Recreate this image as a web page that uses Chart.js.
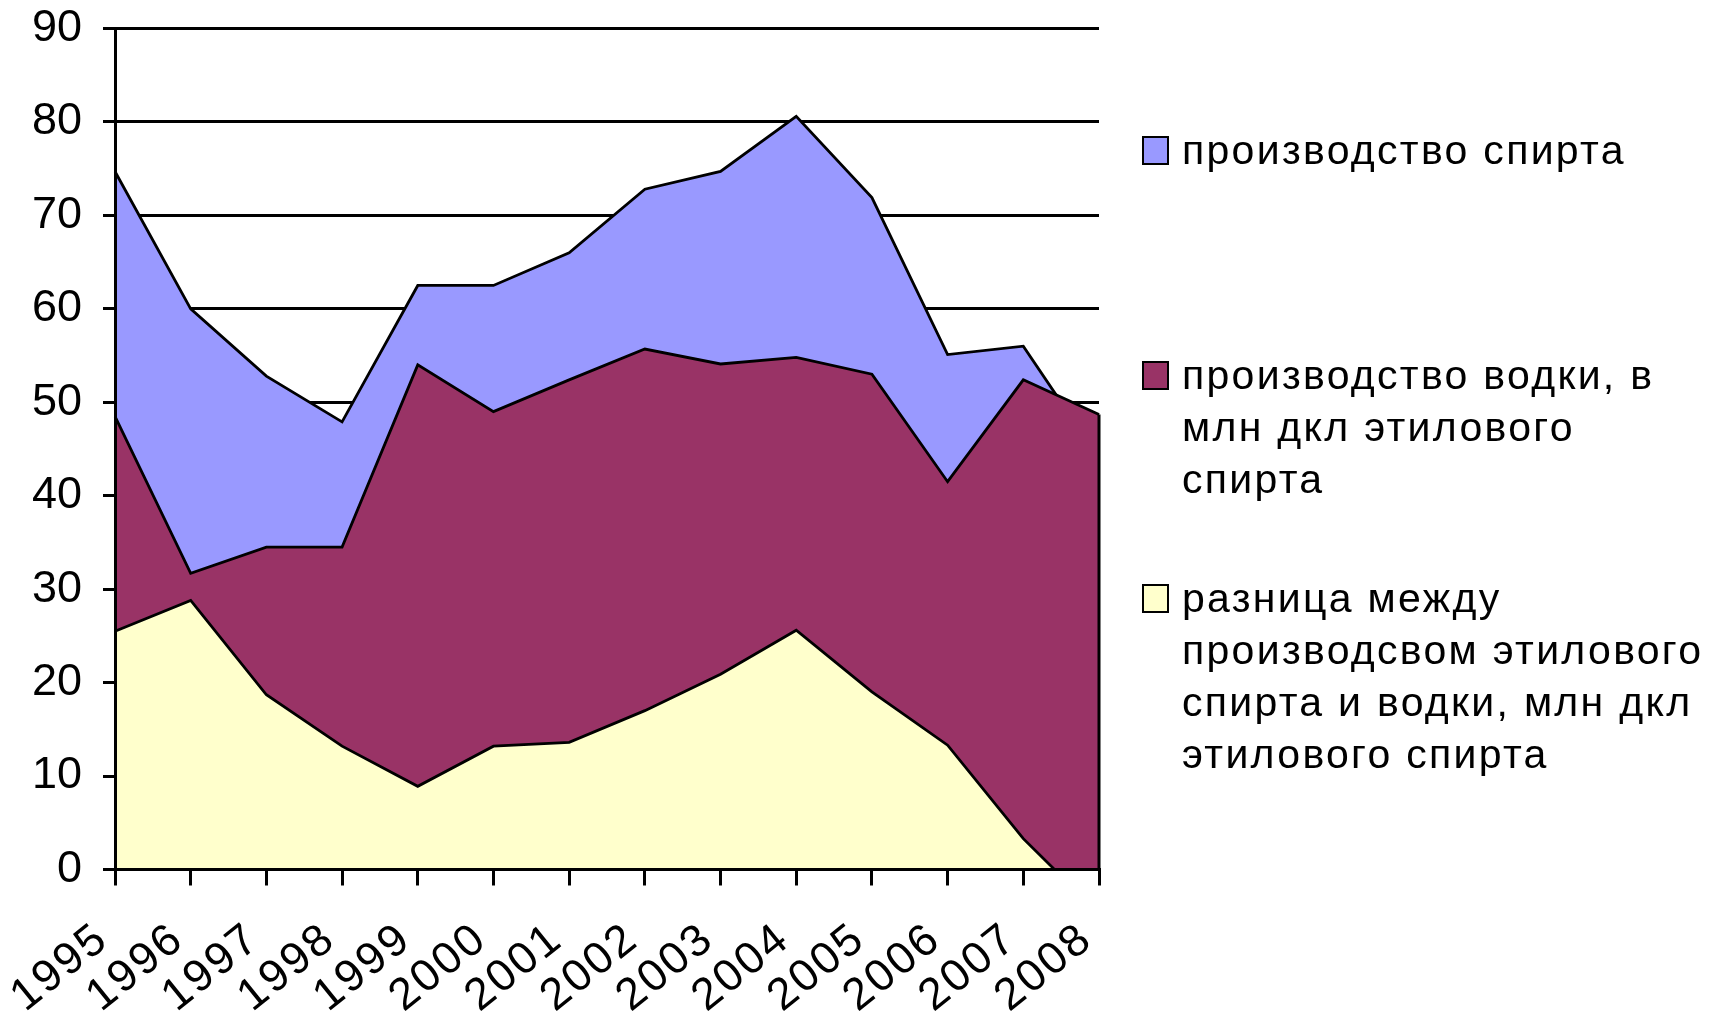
<!DOCTYPE html>
<html>
<head>
<meta charset="utf-8">
<script src="https://cdn.jsdelivr.net/npm/chart.js@4.4.1/dist/chart.umd.min.js"></script>
<style>
  body { margin: 0; background: #fff; }
  #wrap { position: relative; width: 1714px; height: 1015px; }
  .leg { position: absolute; left: 1142px; font-family: "Liberation Sans", Arial, sans-serif;
         font-size: 41px; line-height: 52px; color: #000; white-space: nowrap; letter-spacing: 2.3px; }
  .leg .box { position: absolute; left: 0; width: 23px; height: 25px; border: 2px solid #000; }
  .leg .txt { position: absolute; left: 40px; top: 0; }
</style>
</head>
<body>
<div id="wrap">
  <canvas id="areaChart"></canvas>
  <div class="leg" style="top:124px"><div class="box" style="top:12px;background:#9999FF"></div><div class="txt">производство спирта</div></div>
  <div class="leg" style="top:349px"><div class="box" style="top:12px;background:#993366"></div><div class="txt">производство водки, в<br>млн дкл этилового<br>спирта</div></div>
  <div class="leg" style="top:572px"><div class="box" style="top:12px;background:#FFFFCC"></div><div class="txt">разница между<br>производсвом этилового<br>спирта и водки, млн дкл<br>этилового спирта</div></div>
</div>
<script>
const years = ['1995', '1996', '1997', '1998', '1999', '2000', '2001', '2002', '2003', '2004', '2005', '2006', '2007', '2008'];
const spirit = [74.7, 60, 52.8, 47.9, 62.5, 62.5, 66, 72.8, 74.7, 80.6, 71.9, 55.1, 56, 44];
const vodka = [48.5, 31.7, 34.5, 34.5, 54, 49, 52.4, 55.7, 54.1, 54.8, 53, 41.5, 52.4, 48.7];
const diff = [25.5, 28.8, 18.7, 13.2, 8.9, 13.2, 13.6, 17, 20.9, 25.6, 19, 13.3, 3.3, -4.7];
const yTicks = [0, 10, 20, 30, 40, 50, 60, 70, 80, 90];

const family = '"Liberation Sans", Arial, sans-serif';

// right edge of the area outline (Excel closes the polygon on the last category),
// then a little letter spacing for the year labels which are drawn after the datasets
const edgePlugin = {
    id: 'edge',
    afterDatasetsDraw(chart) {
        const x = chart.scales.x.getPixelForValue(years.length - 1);
        const y = chart.scales.y;
        const top = Math.max(...chart.data.datasets.map(d => d.data[d.data.length - 1]));
        const ctx = chart.ctx;
        ctx.save();
        ctx.strokeStyle = '#000';
        ctx.lineWidth = 3;
        ctx.beginPath();
        ctx.moveTo(x, y.getPixelForValue(0));
        ctx.lineTo(x, y.getPixelForValue(top));
        ctx.stroke();
        ctx.restore();
        ctx.letterSpacing = '2.5px';
    },
    afterDraw(chart) {
        chart.ctx.letterSpacing = '0px';
    }
};

const ctx = document.getElementById('areaChart').getContext('2d');

new Chart(ctx, {
    type: 'line',
    data: {
        labels: years,
        datasets: [{
            label: 'разница между производсвом этилового спирта и водки, млн дкл этилового спирта',
            data: diff,
            backgroundColor: '#FFFFCC'
        }, {
            label: 'производство водки, в млн дкл этилового спирта',
            data: vodka,
            backgroundColor: '#993366'
        }, {
            label: 'производство спирта',
            data: spirit,
            backgroundColor: '#9999FF'
        }]
    },
    options: {
        responsive: true,
        maintainAspectRatio: false,
        animation: false,
        layout: { padding: { top: 28.5, right: 615, left: 0, bottom: 0 } },
        elements: {
            line: { fill: 'origin', tension: 0, borderColor: '#000', borderWidth: 2.8 },
            point: { radius: 0, hoverRadius: 0 }
        },
        plugins: {
            legend: { display: false },
            tooltip: { enabled: false }
        },
        scales: {
            x: {
                offset: false,
                grid: { drawOnChartArea: false, drawTicks: true, tickLength: 16, color: '#000', lineWidth: 3 },
                border: { display: true, color: '#000', width: 3, z: 1 },
                ticks: { color: '#000', font: { family: family, size: 45 }, autoSkip: false, z: 2,
                         minRotation: 39, maxRotation: 39, padding: 27, labelOffset: -12 },
                afterFit: scale => { scale.height = 145.5; }
            },
            y: {
                min: 0,
                max: 90,
                afterBuildTicks: scale => { scale.ticks = yTicks.map(v => ({ value: v })); },
                grid: { color: '#000', lineWidth: 3, tickLength: 12 },
                border: { display: true, color: '#000', width: 3, z: 1 },
                ticks: { color: '#000', font: { family: family, size: 45 }, padding: 21 },
                afterFit: scale => { scale.width = 115; scale.paddingTop = 0; scale.paddingBottom = 0; }
            }
        }
    },
    plugins: [edgePlugin]
});
</script>
</body>
</html>
